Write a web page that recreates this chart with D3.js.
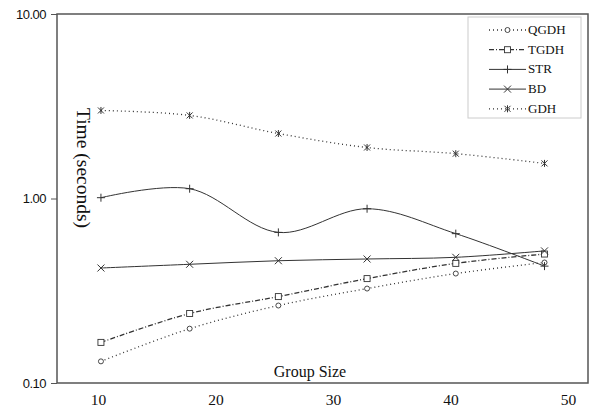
<!DOCTYPE html>
<html>
<head>
<meta charset="utf-8">
<script src="https://cdn.jsdelivr.net/npm/d3@7"></script>
<style>
body { margin: 0; background: #fff; }
.yaxis text { font-family: "Liberation Sans", Arial, sans-serif; font-size: 13px; letter-spacing: -0.5px; fill: #111; }
.xaxis text { font-family: "Times New Roman", "Liberation Serif", Times, serif; font-size: 15.5px; fill: #111; }
.lbl { font-family: "Times New Roman", "Liberation Serif", Times, serif; font-size: 16px; fill: #111; }
.leg text { font-family: "Times New Roman", "Liberation Serif", Times, serif; font-size: 13px; fill: #111; }
</style>
</head>
<body>
<div id="chart"></div>
<script>
var width = 591, height = 414;
var box = {left: 57, top: 14, right: 588, bottom: 383};

// data
var groupSize = [10.25, 17.8, 25.35, 32.9, 40.45, 48];
var qgdh = [0.131, 0.197, 0.263, 0.325, 0.392, 0.45];
var tgdh = [0.166, 0.238, 0.294, 0.368, 0.445, 0.50];
var str  = [1.01, 1.13, 0.655, 0.88, 0.645, 0.43];
var bd   = [0.42, 0.44, 0.46, 0.47, 0.48, 0.52];
var gdh  = [3.0, 2.82, 2.25, 1.89, 1.75, 1.55];
var xTicks = [10, 20, 30, 40, 50];
var yTicks = [0.1, 1, 10];

var series = [
  {name: "QGDH", values: qgdh, dash: "1,3", marker: "circle"},
  {name: "TGDH", values: tgdh, dash: "5,2,1,2", marker: "square"},
  {name: "STR",  values: str,  dash: null, marker: "plus"},
  {name: "BD",   values: bd,   dash: null, marker: "cross"},
  {name: "GDH",  values: gdh,  dash: "1,3", marker: "star"}
];

var ink = "#333";

var svg = d3.select("#chart").append("svg")
  .attr("width", width).attr("height", height);

var x = d3.scaleLinear().domain([10, 50]).range([98, 568]);
var y = d3.scaleLog().domain([0.1, 10]).range([box.bottom, box.top]);

// plot frame
svg.append("rect")
  .attr("x", box.left).attr("y", box.top)
  .attr("width", box.right - box.left).attr("height", box.bottom - box.top)
  .attr("fill", "none").attr("stroke", "#555").attr("stroke-width", 1.5);

// y axis
var ya = svg.append("g")
  .attr("class", "yaxis")
  .attr("transform", `translate(${box.left},0)`)
  .call(d3.axisLeft(y).tickValues(yTicks).tickFormat(d3.format(".2f")).tickSize(6).tickPadding(5));
ya.select(".domain").remove();
ya.selectAll("line").attr("stroke", "#555");

// x axis labels
var xa = svg.append("g")
  .attr("class", "xaxis")
  .attr("transform", `translate(0,${box.bottom})`)
  .call(d3.axisBottom(x).tickValues(xTicks).tickFormat(d3.format("d")).tickSize(0).tickPadding(11));
xa.select(".domain").remove();

svg.append("text").attr("class", "lbl")
  .attr("x", 310).attr("y", 377).attr("text-anchor", "middle")
  .text("Group Size");

svg.append("text").attr("class", "lbl")
  .attr("transform", "translate(77,168) rotate(90)")
  .attr("text-anchor", "middle")
  .style("font-size", "19.5px")
  .text("Time (seconds)");

var line = d3.line()
  .x(d => x(d[0])).y(d => y(d[1]))
  .curve(d3.curveCatmullRom.alpha(0.5));

function marker(g, type) {
  if (type == "circle") {
    g.append("circle").attr("r", 2.5).attr("fill", "#fff").attr("stroke", ink).attr("stroke-width", 0.9);
  } else if (type == "square") {
    g.append("rect").attr("x", -3).attr("y", -3).attr("width", 6).attr("height", 6)
      .attr("fill", "#fff").attr("stroke", ink).attr("stroke-width", 0.9);
  } else {
    var p = "";
    if (type == "plus") p = "M-4,0H4M0,-4V4";
    if (type == "cross") p = "M-3.5,-3.5L3.5,3.5M-3.5,3.5L3.5,-3.5";
    if (type == "star") p = "M-3,-3L3,3M-3,3L3,-3M0,-3.5V3.5";
    g.append("path").attr("d", p).attr("stroke", ink).attr("stroke-width", 1).attr("fill", "none");
  }
}

series.forEach(function(s) {
  var pts = groupSize.map((g, i) => [g, s.values[i]]);
  svg.append("path")
    .attr("d", line(pts))
    .attr("fill", "none")
    .attr("stroke", ink)
    .attr("stroke-width", s.dash ? 1.3 : 1)
    .attr("stroke-dasharray", s.dash);
  svg.selectAll(null).data(pts).enter().append("g")
    .attr("transform", d => `translate(${x(d[0])},${y(d[1])})`)
    .each(function() { marker(d3.select(this), s.marker); });
});

// legend
var leg = svg.append("g").attr("class", "leg");
leg.append("rect")
  .attr("x", 468).attr("y", 17).attr("width", 113).attr("height", 101)
  .attr("fill", "#fff").attr("stroke", "#ccc").attr("stroke-width", 1);
series.forEach(function(s, i) {
  var ly = 30 + i * 19.7;
  leg.append("line")
    .attr("x1", 489).attr("x2", 526).attr("y1", ly).attr("y2", ly)
    .attr("stroke", ink).attr("stroke-width", s.dash ? 1.3 : 1)
    .attr("stroke-dasharray", s.dash);
  marker(leg.append("g").attr("transform", `translate(507.5,${ly})`), s.marker);
  leg.append("text").attr("x", 528).attr("y", ly + 4).text(s.name);
});
</script>
</body>
</html>
